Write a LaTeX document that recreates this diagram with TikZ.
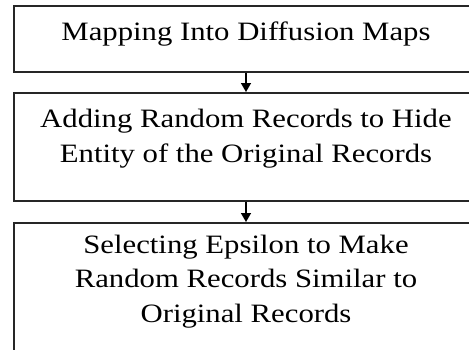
\documentclass[tikz,border=0pt]{standalone}
\usepackage{fontspec}
\setmainfont{Liberation Serif}[FakeStretch=1.16]
\usetikzlibrary{arrows.meta}
\begin{document}
\begin{tikzpicture}[x=1pt,y=1pt,
  stagebox/.style={draw=black!85, line width=1.6pt, rectangle, inner sep=0pt},
  stagetext/.style={align=center, anchor=base, inner sep=0pt,
    font=\fontsize{26.5}{34.5}\selectfont},
  flow/.style={line width=1.4pt, -{Triangle[length=9pt,width=10pt]}}]
\useasboundingbox (0,0) rectangle (469,349);
\clip (0,0) rectangle (469,349);
% the three stages, stacked top to bottom
\node[stagebox, minimum width=466pt, minimum height=66pt, anchor=north west] (s1) at (13,344) {};
\node[stagebox, minimum width=466pt, minimum height=108pt, anchor=north west] (s2) at (13,257) {};
\node[stagebox, minimum width=466pt, minimum height=147pt, anchor=north west] (s3) at (13,127) {};
% captions (anchored on the baseline of their last line)
\node[stagetext] (t1) at (246,308) {Mapping Into Diffusion Maps};
\node[stagetext] (t2) at (246,187) {Adding Random Records to Hide\\Entity of the Original Records};
\node[stagetext] (t3) at (246,27) {Selecting Epsilon to Make\\Random Records Similar to\\Original Records};
% connectors
\draw[flow] (s1.south -| t1) -- (s2.north -| t1);
\draw[flow] (s2.south -| t1) -- (s3.north -| t1);
\end{tikzpicture}
\end{document}
